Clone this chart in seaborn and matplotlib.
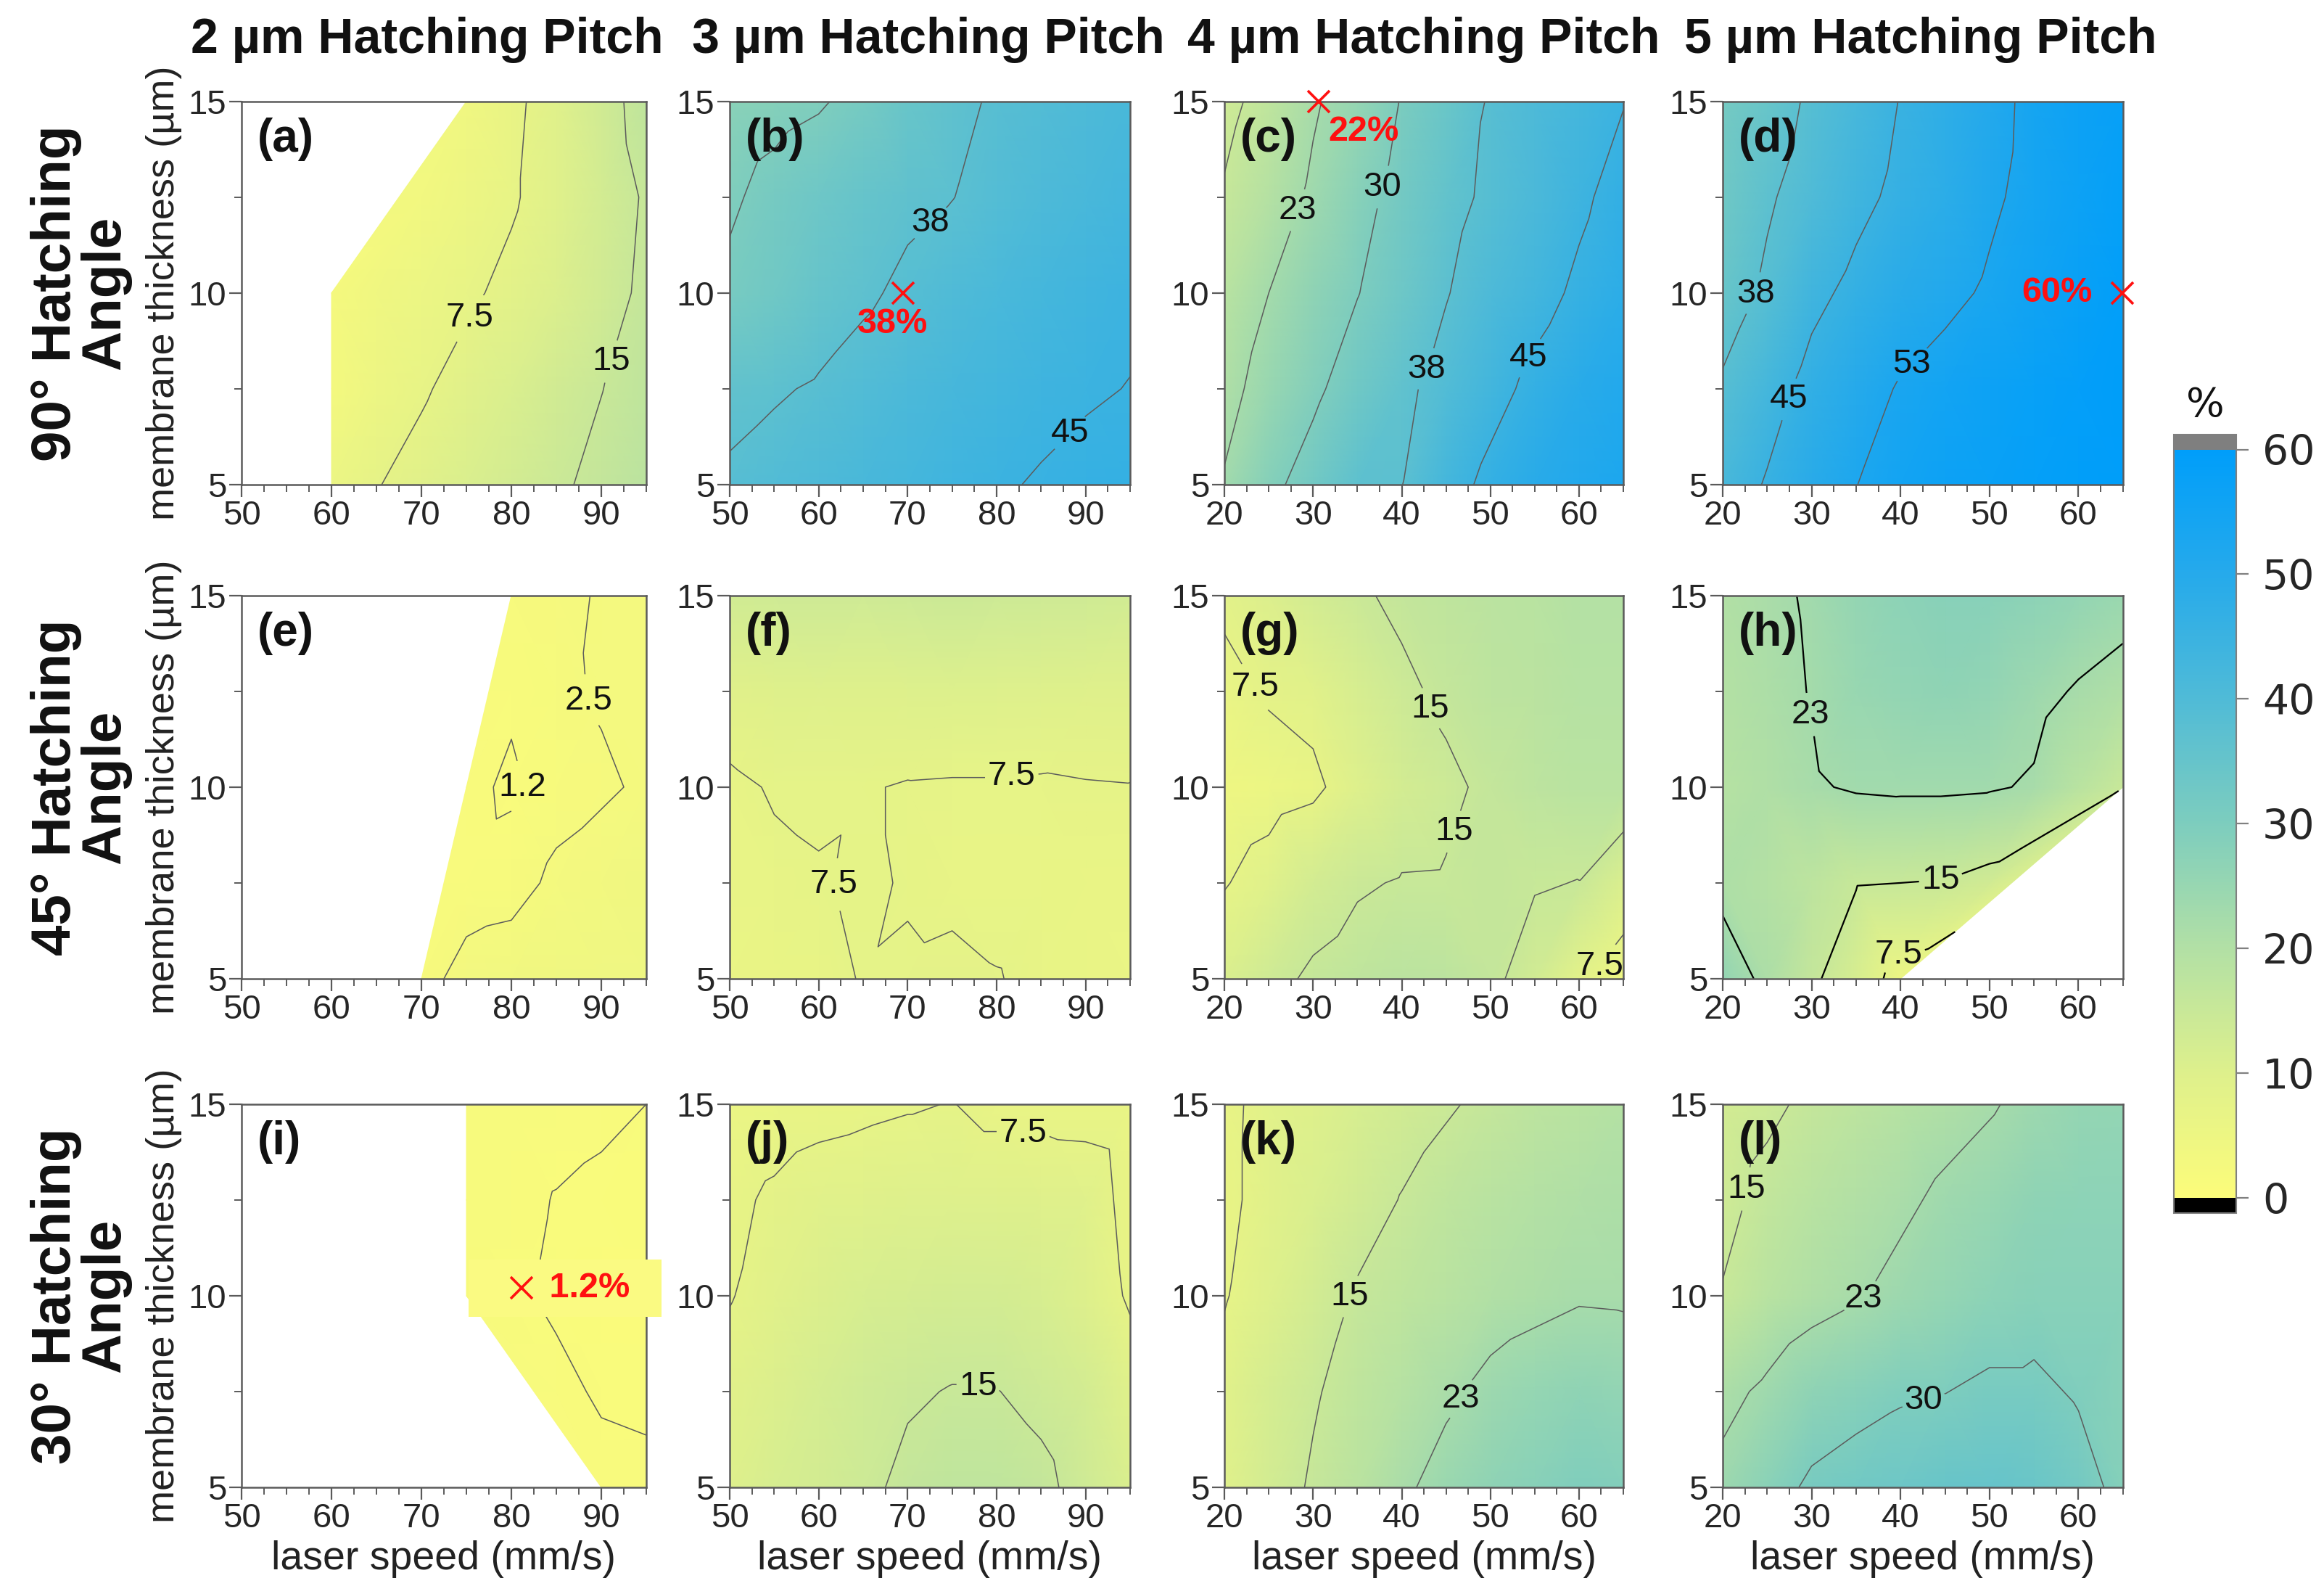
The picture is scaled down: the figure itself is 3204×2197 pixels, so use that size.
import numpy as np
import matplotlib
matplotlib.use('Agg')
import matplotlib.pyplot as plt
import matplotlib.tri as mtri
from matplotlib.colors import LinearSegmentedColormap, Normalize
from matplotlib.ticker import MultipleLocator
import matplotlib.cm as cm
import seaborn as sns

sns.set_theme(style='ticks')
plt.rcParams['font.family'] = ['Liberation Sans', 'DejaVu Sans']

# -----------------------
# data: membrane thickness rows (5 -> 15 um), laser speed columns

nan = np.nan
thickness = [5, 7.5, 10, 12.5, 15]
speed_fast = [50, 55, 60, 65, 70, 75, 80, 85, 90, 95]   # 2 and 3 um pitch
speed_slow = [20, 25, 30, 35, 40, 45, 50, 55, 60, 65]   # 4 and 5 um pitch

pitch_titles = ['2 µm Hatching Pitch', '3 µm Hatching Pitch',
                '4 µm Hatching Pitch', '5 µm Hatching Pitch']
angle_titles = ['90° Hatching\nAngle', '45° Hatching\nAngle', '30° Hatching\nAngle']
panel_tags = ['(a)', '(b)', '(c)', '(d)', '(e)', '(f)',
              '(g)', '(h)', '(i)', '(j)', '(k)', '(l)']

eff_a = [[nan, nan, 5.5, 7.3, 9.0, 10.8, 12.6, 14.3, 16.1, 17.9],
         [nan, nan, 3.0, 5.0, 7.0, 9.0, 10.9, 12.9, 14.9, 16.9],
         [nan, nan, 2.5, 4.0, 5.5, 6.8, 8.5, 10.5, 13.0, 16.0],
         [nan, nan, nan, nan, 3.5, 5.0, 7.0, 9.5, 12.5, 15.5],
         [nan, nan, nan, nan, nan, 4.0, 6.5, 9.5, 13.0, 17.0]]
eff_b = [[38.3, 39.4, 40.4, 41.5, 42.5, 43.6, 44.6, 45.3, 46.0, 46.5],
         [36.0, 37.0, 38.0, 39.5, 40.8, 42.0, 43.0, 44.0, 44.6, 45.1],
         [31.0, 33.0, 35.0, 36.7, 38.5, 40.0, 41.3, 42.5, 43.5, 44.3],
         [29.3, 31.5, 33.3, 35.0, 36.5, 37.4, 39.0, 40.5, 41.7, 42.8],
         [27.5, 28.5, 29.5, 31.5, 34.5, 36.5, 38.0, 39.3, 40.5, 41.5]]
eff_c = [[23.0, 28.5, 32.5, 37.0, 37.4, 42.5, 46.5, 49.0, 51.0, 52.5],
         [20.5, 25.0, 28.8, 33.0, 36.3, 39.5, 43.0, 46.5, 49.0, 51.0],
         [18.5, 22.5, 26.5, 29.8, 33.5, 37.2, 40.5, 43.0, 46.0, 48.5],
         [15.5, 19.3, 23.5, 28.0, 32.0, 35.8, 38.5, 41.0, 44.0, 47.0],
         [13.5, 17.0, 21.8, 25.5, 30.3, 34.0, 38.0, 40.5, 42.5, 44.8]]
eff_d = [[41.5, 45.5, 49.0, 52.4, 55.0, 56.5, 57.5, 58.5, 59.5, 60.0],
         [38.3, 42.5, 47.0, 50.0, 53.0, 55.0, 56.5, 57.8, 59.0, 60.0],
         [34.5, 38.5, 43.5, 46.5, 49.0, 51.0, 53.3, 55.5, 57.5, 59.5],
         [33.0, 36.8, 40.0, 43.5, 46.3, 48.5, 51.5, 54.3, 56.5, 58.5],
         [31.5, 34.5, 38.5, 41.8, 45.2, 47.8, 50.5, 54.0, 56.3, 58.0]]
eff_e = [[nan, nan, nan, nan, 1.8, 3.2, 3.6, 4.0, 4.3, 4.6],
         [nan, nan, nan, nan, nan, 1.6, 1.8, 2.9, 3.5, 4.0],
         [nan, nan, nan, nan, nan, 1.5, 1.0, 1.8, 2.2, 2.8],
         [nan, nan, nan, nan, nan, nan, 1.4, 2.1, 2.7, 3.0],
         [nan, nan, nan, nan, nan, nan, 1.8, 2.2, 2.6, 2.9]]
eff_f = [[6.0, 6.5, 7.0, 7.6, 7.8, 8.0, 7.6, 7.0, 6.5, 6.0],
         [6.8, 7.0, 7.3, 7.9, 7.3, 7.0, 6.8, 6.7, 6.5, 6.4],
         [7.0, 7.7, 7.9, 7.7, 7.3, 7.2, 7.2, 7.1, 7.3, 7.4],
         [9.0, 9.8, 10.0, 9.8, 10.0, 10.2, 10.0, 10.0, 9.8, 9.5],
         [13.0, 13.5, 13.8, 13.5, 14.0, 14.5, 14.0, 13.8, 13.5, 13.0]]
eff_g = [[11.0, 13.5, 15.8, 17.0, 18.0, 17.5, 16.0, 13.0, 8.5, 4.5],
         [7.2, 9.5, 12.5, 14.5, 15.3, 15.4, 16.0, 15.3, 14.9, 11.0],
         [4.5, 5.5, 6.5, 10.0, 12.5, 14.0, 16.0, 17.5, 18.5, 18.5],
         [6.0, 8.0, 9.0, 11.5, 14.0, 16.0, 17.5, 18.0, 19.0, 19.0],
         [8.5, 10.5, 12.5, 14.3, 16.0, 17.0, 18.0, 18.5, 19.5, 19.5]]
eff_h = [[26.0, 21.0, 16.0, 11.5, 5.0, nan, nan, nan, nan, nan],
         [20.7, 19.5, 17.5, 15.3, 15.0, 14.7, 13.0, nan, nan, nan],
         [19.0, 20.5, 22.0, 23.0, 23.3, 23.3, 23.0, 22.0, 18.5, 15.2],
         [19.5, 21.0, 22.7, 25.0, 26.0, 26.5, 26.0, 24.0, 22.0, 20.5],
         [20.0, 21.5, 23.0, 25.5, 27.0, 28.0, 28.0, 27.0, 26.0, 24.5]]
eff_i = [[nan, nan, nan, nan, nan, nan, nan, nan, 1.6, 1.5],
         [nan, nan, nan, nan, nan, nan, nan, 1.5, 1.05, 0.95],
         [nan, nan, nan, nan, nan, 1.7, 1.4, 1.0, 0.9, 0.9],
         [nan, nan, nan, nan, nan, 1.7, 1.5, 1.15, 0.95, 0.9],
         [nan, nan, nan, nan, nan, 1.8, 1.7, 1.6, 1.45, 1.2]]
eff_j = [[10.0, 11.5, 12.5, 14.0, 16.0, 17.0, 17.0, 16.0, 13.5, 11.0],
         [9.0, 10.5, 12.0, 13.5, 14.5, 15.2, 15.1, 14.0, 12.5, 9.5],
         [7.3, 9.0, 10.5, 11.5, 12.0, 12.5, 12.5, 11.5, 10.0, 7.0],
         [6.8, 8.0, 9.0, 9.5, 10.0, 10.0, 10.0, 9.8, 9.2, 6.5],
         [5.5, 6.0, 6.5, 6.8, 7.2, 7.6, 6.5, 6.5, 6.4, 6.0]]
eff_k = [[9.5, 12.5, 15.6, 18.2, 21.5, 24.5, 26.5, 28.0, 29.5, 29.0],
         [9.0, 12.0, 14.5, 17.0, 19.0, 21.5, 24.0, 25.5, 26.5, 26.0],
         [7.2, 10.0, 12.5, 15.5, 17.0, 18.5, 20.0, 21.0, 22.0, 21.8],
         [6.5, 9.0, 11.0, 13.0, 15.2, 17.0, 18.5, 19.5, 20.5, 21.0],
         [6.5, 8.8, 10.0, 11.5, 13.0, 14.5, 16.0, 17.5, 18.5, 19.5]]
eff_l = [[24.0, 27.5, 31.0, 32.5, 33.5, 34.5, 35.0, 34.0, 32.0, 28.5],
         [21.0, 23.5, 26.5, 28.0, 29.3, 29.9, 31.0, 31.0, 29.5, 28.0],
         [15.3, 18.5, 20.5, 22.0, 24.0, 25.5, 27.0, 28.0, 28.0, 28.0],
         [13.5, 16.5, 18.5, 20.0, 21.5, 23.5, 25.0, 26.5, 27.0, 27.0],
         [12.5, 14.0, 16.0, 17.5, 19.0, 20.5, 22.0, 24.0, 25.5, 26.0]]

panels = [eff_a, eff_b, eff_c, eff_d, eff_e, eff_f,
          eff_g, eff_h, eff_i, eff_j, eff_k, eff_l]

# contour levels: labelled ones and plain ones for each panel
label_levels = [[7.5, 15], [37.5, 45], [22.5, 30, 37.5, 45], [37.5, 45, 52.5],
                [1.2, 2.5], [7.5], [7.5, 15], [7.5, 15, 22.5],
                [], [7.5, 15], [15, 22.5], [15, 22.5, 30]]
plain_levels = [[], [30], [15], [], [], [], [], [], [1.2], [], [7.5], []]
label_pos = [[(76.5, 9.2), (91.2, 8.2)],
             [(73.5, 11.6), (88.0, 6.4)],
             [(29.0, 12.1), (37.3, 12.8), (41.9, 8.1), (54.4, 8.3)],
             [(23.5, 10.0), (27.8, 7.2), (41.9, 8.0)],
             [(87.6, 12.2), (83.8, 10.0)],
             [(62.6, 7.5), (81.6, 10.6)],
             [(23.4, 12.6), (45.1, 12.2), (51.7, 8.4), (61.9, 5.4)],
             [(30.0, 11.9), (44.5, 7.7), (39.7, 6.0)],
             [],
             [(83.0, 14.0), (77.8, 7.2)],
             [(34.0, 10.0), (47.7, 7.2)],
             [(22.2, 12.8), (35.5, 10.0), (42.8, 7.1)]]
level_text = {1.2: '1.2', 2.5: '2.5', 7.5: '7.5', 15: '15', 22.5: '23',
              30: '30', 37.5: '38', 45: '45', 52.5: '53'}

# -----------------------

cmap = LinearSegmentedColormap.from_list('eff', ['#FCFC7A', '#DEF08C', '#B2E0A5', '#7DCDBE',
                                                  '#50BBD7', '#26AAEB', '#009EFA'])
cmap.set_over('#7f7f7f')
cmap.set_under('black')
norm = Normalize(0, 60, clip=True)

fig = plt.figure(figsize=(32.05, 21.97), dpi=100)

col_left = [0.1039, 0.3139, 0.5267, 0.741]
col_w = [0.1741, 0.1722, 0.1716, 0.1722]
title_x = [0.1837, 0.3994, 0.6125, 0.8262]
row_bot = [0.696, 0.386, 0.0669]
row_h = 0.2404

spine_c = '#5a5a5a'

axes = []
for i, eff in enumerate(panels):
    r, c = divmod(i, 4)
    ax = fig.add_axes([col_left[c], row_bot[r], col_w[c], row_h])
    speeds = speed_fast if c < 2 else speed_slow
    X, Y = np.meshgrid(speeds, thickness)
    Z = np.array(eff, dtype=float)
    ok = ~np.isnan(Z)
    tri = mtri.Triangulation(X[ok], Y[ok])
    ax.tripcolor(tri, Z[ok], shading='gouraud', cmap=cmap, norm=norm)

    ax.set_xlim(speeds[0], speeds[-1])
    ax.set_ylim(5, 15)
    ax.set_xticks(np.arange(speeds[0], speeds[-1], 10))
    ax.set_yticks([5, 10, 15])
    ax.xaxis.set_minor_locator(MultipleLocator(2.5))
    ax.yaxis.set_minor_locator(MultipleLocator(2.5))
    ax.tick_params(which='major', direction='out', length=12, width=1.6,
                   color=spine_c, labelsize=34, pad=3)
    ax.tick_params(which='minor', direction='out', length=7, width=1.4, color=spine_c)
    for sp in ax.spines.values():
        sp.set_color(spine_c)
        sp.set_linewidth(1.8)
        sp.set_zorder(5)

    lc = 'black' if i == 7 else '#5c5c5c'
    lw = 1.6 if i == 7 else 1.1
    if plain_levels[i]:
        ax.tricontour(tri, Z[ok], levels=plain_levels[i], colors=lc, linewidths=lw)
    if label_levels[i]:
        cs = ax.tricontour(tri, Z[ok], levels=label_levels[i], colors=lc, linewidths=lw)
        txts = ax.clabel(cs, fmt=level_text, fontsize=34, inline=True, inline_spacing=4,
                         colors='#111111', manual=label_pos[i])
        for t in txts:
            t.set_rotation(0)

    ax.text(0.04, 0.958, panel_tags[i], transform=ax.transAxes, ha='left', va='top',
            fontsize=46, fontweight='bold', color='#111111')

    if c == 0:
        ax.set_ylabel('membrane thickness (µm)', fontsize=39, labelpad=6, color='#222222')
    if r == 2:
        ax.set_xlabel('laser speed (mm/s)', fontsize=40, labelpad=6, color='#222222')
    axes.append(ax)

# best points
mk = dict(marker='x', color='#ff1010', ms=22, mew=2.6, clip_on=False, zorder=8)
rt = dict(color='#ff1010', fontsize=35, fontweight='bold', ha='center', va='center', zorder=8)
axes[1].plot([69.5], [10.0], **mk)
axes[1].text(68.3, 9.2, '38%', **rt)
axes[2].plot([30.6], [15.0], **mk)
axes[2].text(35.7, 14.2, '22%', **rt)
axes[3].plot([64.9], [10.0], **mk)
axes[3].text(57.6, 10.0, '60%', **rt)
axes[8].text(76.6, 10.2, '       1.2%  ', color='#ff1010', fontsize=35, fontweight='bold',
             ha='left', va='center', zorder=7, clip_on=False,
             bbox=dict(boxstyle='square,pad=0.35', fc='#fafa82', ec='none'))
axes[8].plot([81.1], [10.2], **mk)

# column and row titles
for c in range(4):
    fig.text(title_x[c], 0.975, pitch_titles[c], ha='center', va='center',
             fontsize=49, fontweight='bold', color='#111111')
for r in range(3):
    fig.text(0.0348, row_bot[r] + row_h / 2, angle_titles[r], rotation=90, ha='center',
             va='center', multialignment='center', linespacing=0.95,
             fontsize=55, fontweight='bold', color='#111111')

# colorbar
cax = fig.add_axes([0.9351, 0.2390, 0.0268, 0.4884])
sm = cm.ScalarMappable(norm=Normalize(0, 60), cmap=cmap)
cb = fig.colorbar(sm, cax=cax, extend='both', extendrect=True, extendfrac=0.02,
                  ticks=np.arange(0, 61, 10))
cb.outline.set_edgecolor('#808080')
cb.outline.set_linewidth(1.5)
cax.tick_params(length=12, width=1.6, color='#808080', pad=14)
for t in cax.get_yticklabels():
    t.set_fontfamily('DejaVu Sans')
    t.set_fontsize(41)
fig.text(0.9351 + 0.0134, 0.7456, '%', ha='center', va='center', fontsize=40,
         family='DejaVu Sans', color='#111111')

fig.savefig('out.png', dpi=100)
